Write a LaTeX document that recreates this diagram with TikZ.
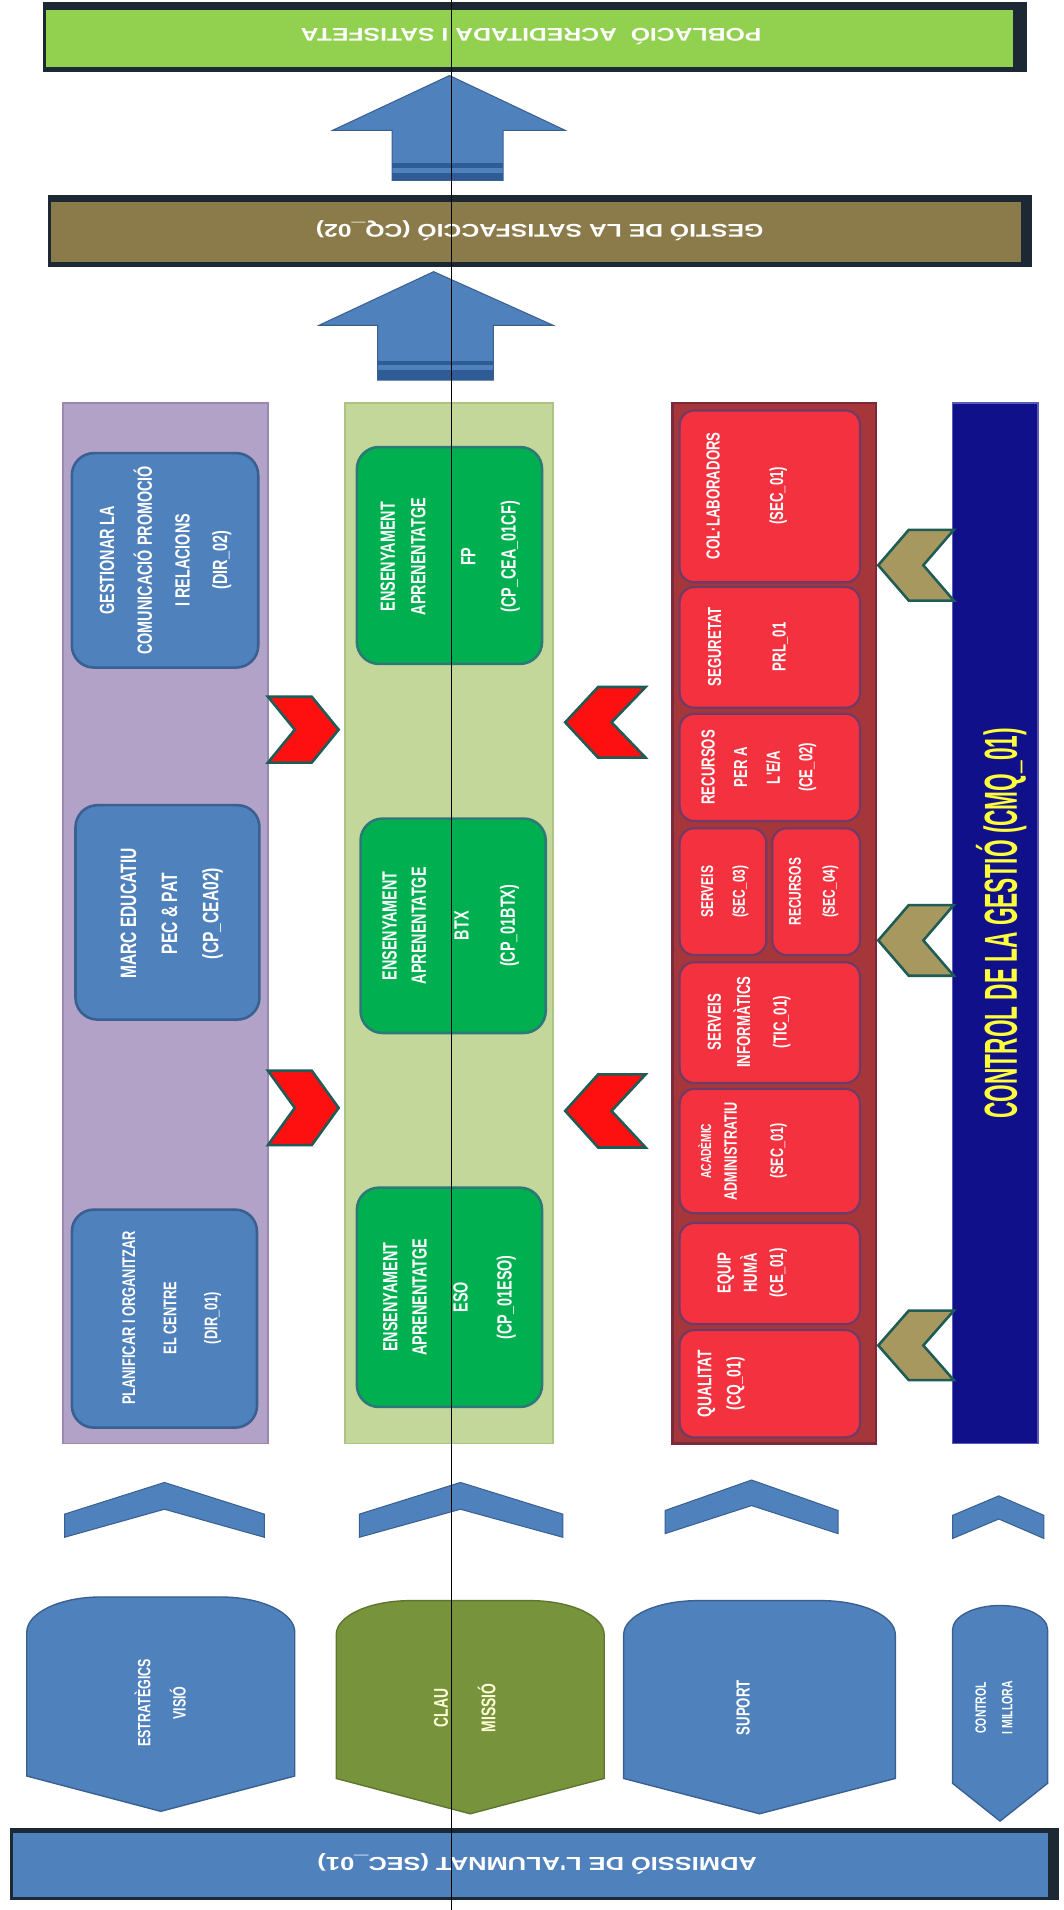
\documentclass[tikz,border=0pt]{standalone}
\usepackage{fontspec}
\setmainfont{Liberation Sans}
\newfontfamily\nar{Liberation Sans}[FakeStretch=0.7]
\newfontfamily\narc{Liberation Sans}[FakeStretch=0.49]
\newfontfamily\wid{Liberation Sans}[FakeStretch=1.35]
\definecolor{bgreen}{HTML}{92D050}
\definecolor{bdark}{HTML}{1C2833}
\definecolor{bbrown}{HTML}{8C7B4A}
\definecolor{ablue}{HTML}{4F81BD}
\definecolor{abluedk}{HTML}{2F5C94}
\definecolor{lpurple}{HTML}{B3A2C7}
\definecolor{lpurpleD}{HTML}{9A88B2}
\definecolor{lgreen}{HTML}{C4D79B}
\definecolor{lgreenD}{HTML}{AEC383}
\definecolor{bxblueD}{HTML}{3A6091}
\definecolor{bxgreen}{HTML}{00B050}
\definecolor{bxgreenD}{HTML}{2B7A78}
\definecolor{clau}{HTML}{77933C}
\definecolor{clauD}{HTML}{5E7530}
\definecolor{lred}{HTML}{A5363A}
\definecolor{lredD}{HTML}{7A2A3A}
\definecolor{bxred}{HTML}{F4323F}
\definecolor{bxredD}{HTML}{6E3A6A}
\definecolor{navy}{HTML}{10108A}
\definecolor{navyL}{HTML}{5A5AB8}
\definecolor{yel}{HTML}{FFFF3C}
\definecolor{khaki}{HTML}{A6985F}
\definecolor{chedge}{HTML}{1F5C55}
\definecolor{chred}{HTML}{FF1010}
\definecolor{clautxt}{HTML}{FFFFD8}
\begin{document}
\begin{tikzpicture}[x=0.025cm,y=-0.025cm,
  bt/.style={rotate=90, align=center, text=white, inner sep=0pt},
  bannertxt/.style={rotate=180, text=white, inner sep=0pt, font={\wid\bfseries\fontsize{10.7}{12}\selectfont}},
  bbox/.style={fill=ablue, draw=bxblueD, line width=1.5pt, rounded corners=0.45cm},
  gbox/.style={fill=bxgreen, draw=bxgreenD, line width=1.5pt, rounded corners=0.45cm},
  rbox/.style={fill=bxred, draw=bxredD, line width=1.2pt, rounded corners=0.3cm},
  redchev/.style={fill=chred, draw=chedge, line width=1.5pt},
  khchev/.style={fill=khaki, draw=chedge, line width=1.5pt},
  upchev/.style={fill=ablue, draw=bxblueD, line width=0.6pt},
  blockarrow/.style={fill=ablue, draw=bxblueD, line width=0.6pt},
  stripe/.style={fill=abluedk},
  pent/.style={fill=ablue, draw=bxblueD, line width=0.8pt}
]
\useasboundingbox (0,0) rectangle (873,1568);
\fill[white] (0,0) rectangle (873,1568);

% ---------- top banner ----------
\fill[bdark] (35,2) rectangle (843,59);
\fill[bgreen] (38,8) rectangle (832,55);
\node[bannertxt] (pob) at (436,30) {POBLACIÓ\ \ ACREDITADA I SATISFETA};

% ---------- arrow 1 ----------
\draw[blockarrow] (369,62) -- (464,107) -- (413,107) -- (413,148) -- (322,148) -- (322,107) -- (273,107) -- cycle;
\fill[stripe] (322,134) rectangle (413,138);
\fill[stripe] (322,142) rectangle (413,148);

% ---------- brown banner ----------
\fill[bdark] (39,160) rectangle (847,219);
\fill[bbrown] (42,166) rectangle (838,215);
\node[bannertxt] (ges) at (443,189) {GESTIÓ DE LA SATISFACCIÓ (CQ\_02)};

% ---------- arrow 2 ----------
\draw[blockarrow] (356,223) -- (454,267) -- (405,267) -- (405,312) -- (310,312) -- (310,267) -- (262,267) -- cycle;
\fill[stripe] (310,296) rectangle (405,300);
\fill[stripe] (310,304) rectangle (405,312);

% ---------- lanes ----------
\fill[lpurple, draw=lpurpleD, line width=1pt] (52,331) rectangle (220,1185);
\fill[lgreen, draw=lgreenD, line width=1pt] (283,331) rectangle (454,1185);
\fill[lred, draw=lredD, line width=1.5pt] (552,331) rectangle (719,1185);
\fill[navy, draw=navyL, line width=1pt] (782,331) rectangle (852,1185);

% ---------- purple lane boxes ----------
\draw[bbox] (59,372) rectangle (212,548);
\draw[bbox] (62,661) rectangle (213,837);
\draw[bbox] (59,993) rectangle (211,1172);
\node[bt, font={\nar\bfseries\fontsize{12}{22}\selectfont}] (pA) at (136,460)
  {GESTIONAR LA\\COMUNICACIÓ PROMOCIÓ\\I RELACIONS\\(DIR\_02)};
\node[bt, font={\nar\bfseries\fontsize{13}{24}\selectfont}] (pB) at (141,750)
  {MARC EDUCATIU\\PEC \& PAT\\(CP\_CEA02)};
\node[bt, font={\nar\bfseries\fontsize{10.7}{24}\selectfont}] (pC) at (141,1082)
  {PLANIFICAR I ORGANITZAR\\EL CENTRE\\(DIR\_01)};

% ---------- green lane boxes ----------
\draw[gbox] (293,367) rectangle (445,545);
\draw[gbox] (296,672) rectangle (448,848);
\draw[gbox] (293,975) rectangle (445,1155);
\node[bt, font={\nar\bfseries\fontsize{12}{17.8}\selectfont}] (gFP) at (369.5,457)
  {ENSENYAMENT\\APRENENTATGE\\[11.4pt]FP\\[5.7pt](CP\_CEA\_01CF)};
\node[bt, font={\nar\bfseries\fontsize{12}{17}\selectfont}] (gBTX) at (370,760)
  {ENSENYAMENT\\APRENENTATGE\\[8pt]BTX\\[10pt](CP\_01BTX)};
\node[bt, font={\nar\bfseries\fontsize{12}{17}\selectfont}] (gESO) at (369,1065)
  {ENSENYAMENT\\APRENENTATGE\\[7pt]ESO\\[8.6pt](CP\_01ESO)};

% ---------- red lane boxes ----------
\draw[rbox] (558,337) rectangle (706,478);
\draw[rbox] (558,482) rectangle (706,581);
\draw[rbox] (558,586) rectangle (706,674);
\draw[rbox] (558,680) rectangle (629,784);
\draw[rbox] (634,680) rectangle (706,784);
\draw[rbox] (558,790) rectangle (706,889);
\draw[rbox] (558,894) rectangle (706,996);
\draw[rbox] (558,1004) rectangle (706,1087);
\draw[rbox] (558,1092) rectangle (706,1180);
\node[bt, font={\nar\bfseries\fontsize{11}{37}\selectfont}] (rCol) at (613,407)
  {COL·LABORADORS\\(SEC\_01)};
\node[bt, font={\nar\bfseries\fontsize{11}{37.7}\selectfont}] (rSeg) at (614,531)
  {SEGURETAT\\PRL\_01};
\node[bt, font={\nar\bfseries\fontsize{11}{19}\selectfont}] (rRec) at (623,630)
  {RECURSOS\\PER A\\L'E/A\\(CE\_02)};
\node[bt, font={\nar\bfseries\fontsize{10}{18.5}\selectfont}] (rSer) at (595,732)
  {SERVEIS\\(SEC\_03)};
\node[bt, font={\nar\bfseries\fontsize{10}{19.9}\selectfont}] (rRec4) at (668,732)
  {RECURSOS\\(SEC\_04)};
\node[bt, font={\nar\bfseries\fontsize{11}{17}\selectfont}] (rTic) at (615,839)
  {SERVEIS\\INFORMÀTICS\\[4.3pt](TIC\_01)};
\node[bt, font={\nar\bfseries\fontsize{10.5}{15}\selectfont}] (rAca) at (609.5,945)
  {{\fontsize{8.5}{15}\selectfont ACADÈMIC}\\ADMINISTRATIU\\[12pt](SEC\_01)};
\node[bt, font={\nar\bfseries\fontsize{11}{15.3}\selectfont}] (rEq) at (617.5,1045)
  {EQUIP\\HUMÀ\\(CE\_01)};
\node[bt, font={\nar\bfseries\fontsize{11.5}{17}\selectfont}] (rQua) at (592,1136)
  {QUALITAT\\(CQ\_01)};

% ---------- control bar text ----------
\node[rotate=90, text=yel, inner sep=0pt, font={\narc\bfseries\fontsize{27}{30}\selectfont}] (ctl) at (822,758)
  {CONTROL DE LA GESTIÓ (CMQ\_01)};

% ---------- chevrons between lanes ----------
\draw[redchev] (220,572) -- (256,572) -- (278,599) -- (256,626) -- (220,626) -- (242,599) -- cycle;
\draw[redchev] (220,879) -- (256,879) -- (278,909.5) -- (256,940) -- (220,940) -- (242,909.5) -- cycle;
\draw[redchev] (530,564) -- (491,564) -- (464,593) -- (491,622) -- (530,622) -- (502,593) -- cycle;
\draw[redchev] (530,882) -- (491,882) -- (464,912) -- (491,942) -- (530,942) -- (502,912) -- cycle;
\draw[khchev] (783,435) -- (746,435) -- (721,464) -- (746,493) -- (783,493) -- (758,464) -- cycle;
\draw[khchev] (783,743) -- (746,743) -- (721,772) -- (746,801) -- (783,801) -- (758,772) -- cycle;
\draw[khchev] (783,1076) -- (746,1076) -- (721,1104.5) -- (746,1133) -- (783,1133) -- (758,1104.5) -- cycle;

% ---------- upward chevrons ----------
\draw[upchev] (53,1262) -- (53,1243) -- (135,1217) -- (217,1243) -- (217,1262) -- (135,1239) -- cycle;
\draw[upchev] (295,1262) -- (295,1243) -- (378,1217) -- (462,1243) -- (462,1262) -- (378,1239) -- cycle;
\draw[upchev] (546,1259) -- (546,1240) -- (617,1215) -- (688,1240) -- (688,1259) -- (617,1236) -- cycle;
\draw[upchev] (782,1263) -- (782,1244) -- (820,1228) -- (857,1244) -- (857,1263) -- (820,1247) -- cycle;

% ---------- pentagons ----------
\draw[pent] (22,1458) -- (22,1340) .. controls (22,1324) and (49.3,1311) .. (83,1311) -- (181,1311) .. controls (214.7,1311) and (242,1324) .. (242,1340) -- (242,1458) -- (132,1487) -- cycle;
\draw[pent, fill=clau, draw=clauD] (276,1460) -- (276,1342) .. controls (276,1326.5) and (303.3,1314) .. (337,1314) -- (435,1314) .. controls (468.7,1314) and (496,1326.5) .. (496,1342) -- (496,1460) -- (386,1489) -- cycle;
\draw[pent] (512,1460) -- (512,1342) .. controls (512,1326.5) and (539.3,1314) .. (573,1314) -- (674,1314) .. controls (707.7,1314) and (735,1326.5) .. (735,1342) -- (735,1460) -- (623.5,1489) -- cycle;
\draw[pent] (782,1464) -- (782,1338) .. controls (782,1327) and (799.5,1318) .. (821,1318) .. controls (842.5,1318) and (860,1327) .. (860,1338) -- (860,1464) -- (821,1495) -- cycle;
\node[bt, font={\nar\bfseries\fontsize{10.4}{20.6}\selectfont}] (est) at (131.5,1398) {ESTRATÈGICS\\VISIÓ};
\node[bt, text=clautxt, font={\nar\bfseries\fontsize{11.6}{27.7}\selectfont}] (clau) at (381.5,1402) {CLAU\\MISSIÓ};
\node[bt, font={\nar\bfseries\fontsize{11}{13}\selectfont}] (sup) at (610,1402) {SUPORT};
\node[bt, font={\nar\bfseries\fontsize{8.7}{15.6}\selectfont}] (ctrl) at (816,1402) {CONTROL\\I MILLORA};

% ---------- bottom banner ----------
\fill[bdark] (8,1501) rectangle (869,1560);
\fill[ablue] (11,1505) rectangle (860,1557);
\node[bannertxt, font={\wid\bfseries\fontsize{11}{12}\selectfont}] (adm) at (441,1530) {ADMISSIÓ DE L'ALUMNAT (SEC\_01)};

% ---------- thin vertical line ----------
\coordinate (vt) at (370.4,0);
\coordinate (vb) at (370.4,1568);
\draw[black, line width=0.6pt] (vt) -- (vb);
\end{tikzpicture}
\end{document}
